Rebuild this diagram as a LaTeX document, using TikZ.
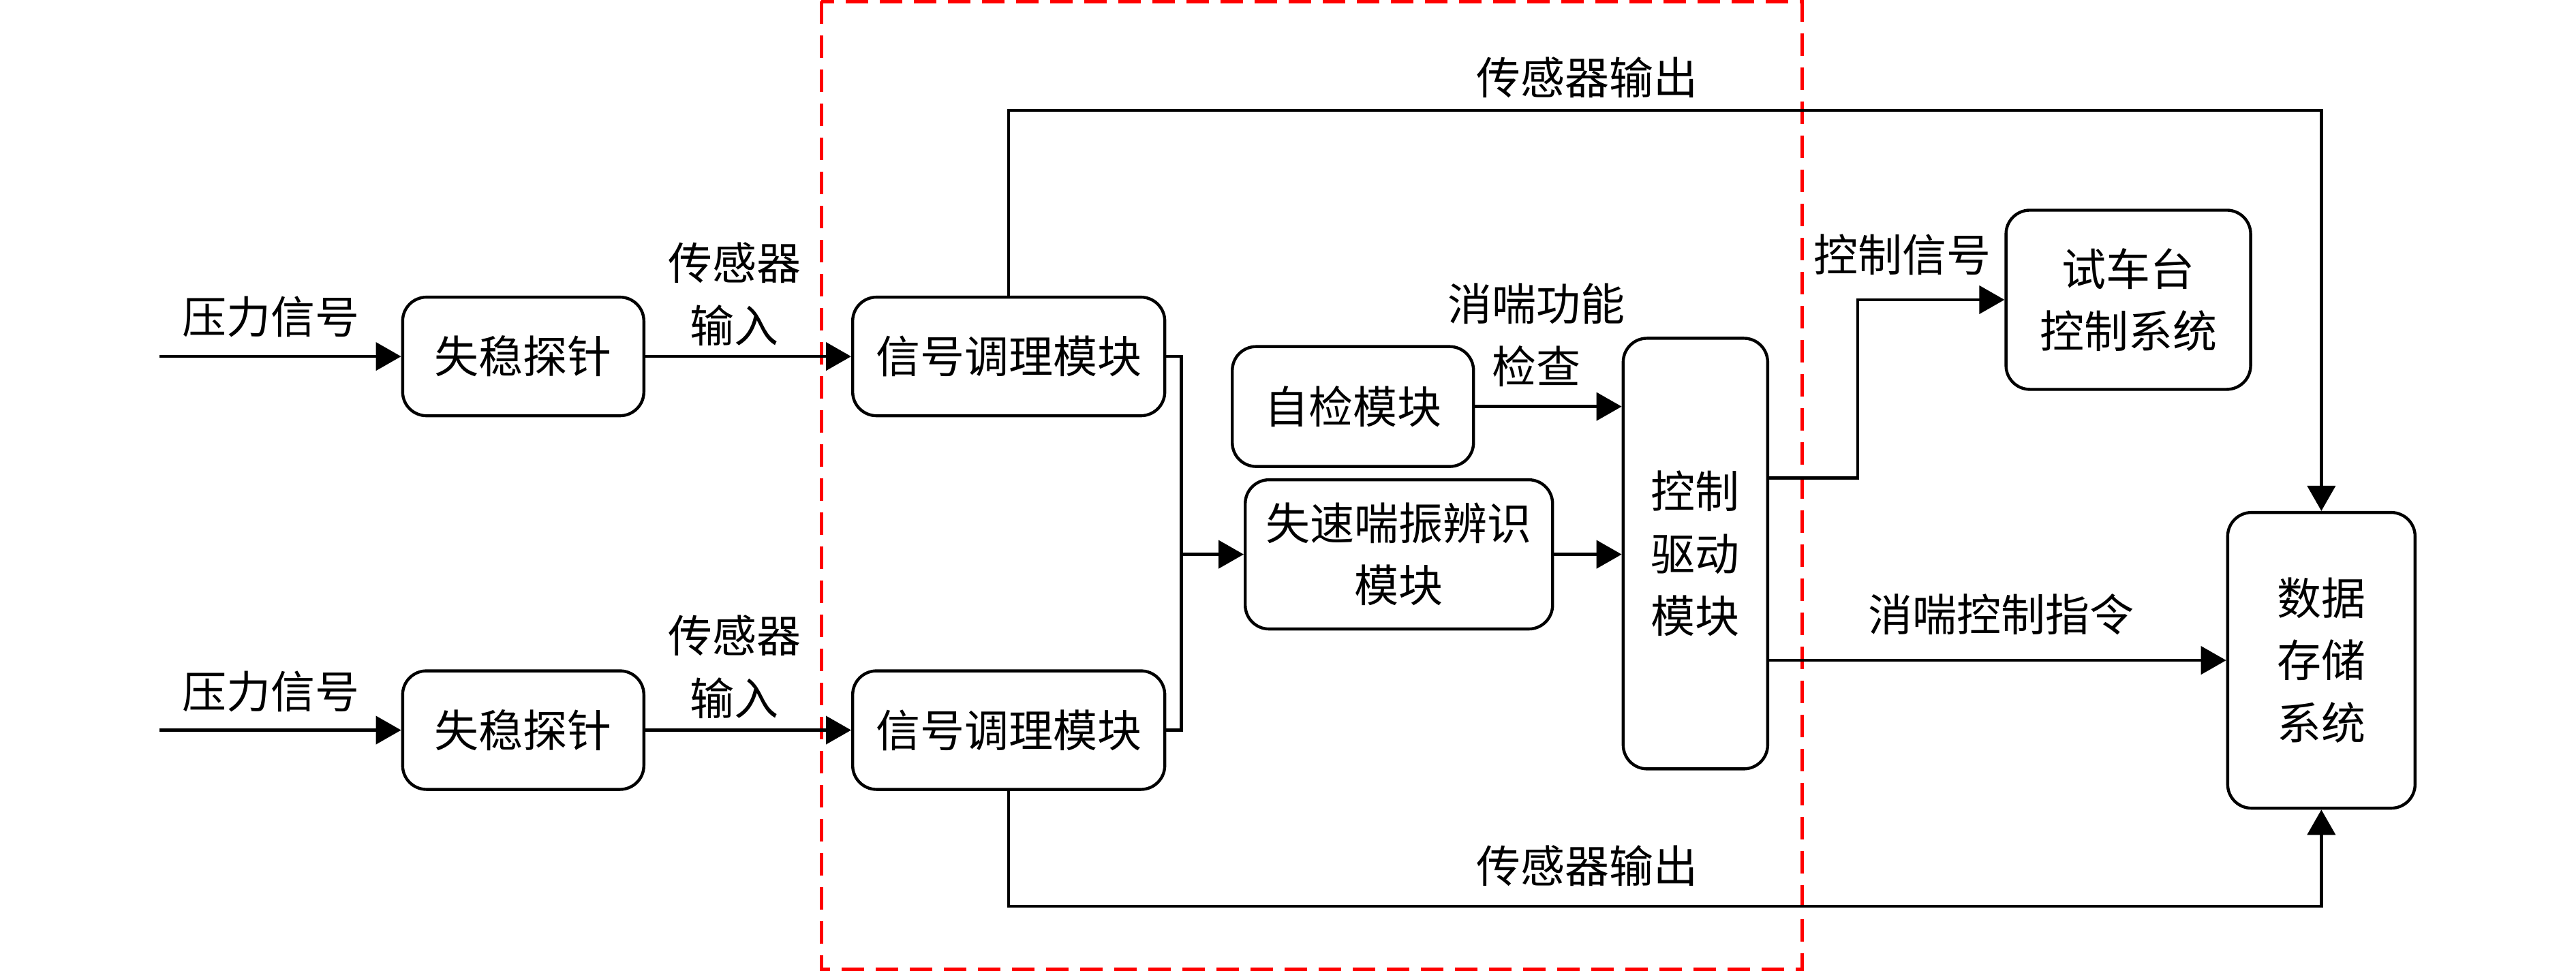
\documentclass[tikz,border=0pt]{standalone}
\usepackage{fontspec}
\newfontfamily\cjk{Noto Sans CJK SC}
\usepackage{tikz}
\usetikzlibrary{arrows.meta}
\tikzset{
    block/.style={draw=black, rounded corners=0.35cm, align=center, inner sep=0pt},
    lbl/.style={align=center, inner sep=0pt},
    line/.style={draw=black, -{Triangle[length=3.7mm,width=4.1mm]}},
    wire/.style={draw=black},
    region/.style={draw=red, dash pattern=on 0.33cm off 0.17cm},
}

\begin{document}
\begin{tikzpicture}[x=0.024107cm, y=-0.024107cm, line width=1.25pt,
    every node/.style={font=\cjk\fontsize{18.5}{26}\selectfont}]
	\useasboundingbox (0,0) rectangle (1568,592);
	\draw[region] (500,1) rectangle (1097,590);
	% upper channel
	\coordinate (in1) at (97,217);
	\node[block, minimum width=3.54cm, minimum height=1.74cm] (probe1) at (318.5,217) {失稳探针};
	\node[block, minimum width=4.58cm, minimum height=1.74cm] (cond1) at (614,217) {信号调理模块};
	\node[lbl] at (165,193) {压力信号};
	\node[lbl] at (447,179) {传感器\\输入};
	% lower channel
	\coordinate (in2) at (97,444.5);
	\node[block, minimum width=3.54cm, minimum height=1.74cm] (probe2) at (318.5,444.5) {失稳探针};
	\node[block, minimum width=4.58cm, minimum height=1.74cm] (cond2) at (614,444.5) {信号调理模块};
	\node[lbl] at (165,421) {压力信号};
	\node[lbl] at (447,406) {传感器\\输入};
	% processing
	\node[block, minimum width=3.54cm, minimum height=1.76cm] (check) at (823.5,247.5) {自检模块};
	\node[block, minimum width=4.51cm, minimum height=2.19cm] (ident) at (851.5,337.5) {失速喘振辨识\\模块};
	\node[block, minimum width=2.12cm, minimum height=6.32cm] (ctrl) at (1032,337) {控制\\驱动\\模块};
	\node[lbl] at (935,204) {消喘功能\\检查};
	% outside systems
	\node[block, minimum width=3.59cm, minimum height=2.63cm] (bench) at (1295.5,182.5) {试车台\\控制系统};
	\node[block, minimum width=2.75cm, minimum height=4.34cm] (store) at (1413,402) {数据\\存储\\系统};
	\node[lbl] at (1158,155) {控制信号};
	\node[lbl] at (1218,374) {消喘控制指令};
	\node[lbl] at (966,47) {传感器输出};
	\node[lbl] at (966,527) {传感器输出};

	\draw[line] (in1) -- (probe1);
	\draw[line] (probe1) -- (cond1);
	\draw[line] (in2) -- (probe2);
	\draw[line] (probe2) -- (cond2);
	\coordinate (junc) at (719,337.5);
	\draw[wire] (cond1.east) -| (junc);
	\draw[wire] (cond2.east) -| (junc);
	\draw[line] (junc) -- (ident);
	\draw[line] (check) -- (check -| ctrl.west);
	\draw[line] (ident) -- (ident -| ctrl.west);
	\draw[line] ([yshift=1.11cm]ctrl.east) -- ++(1.3cm,0) |- (bench);
	\draw[line] (ctrl.east |- store) -- (store);
	\draw[line] (cond1.north) -- ++(0,2.72cm) -| (store.north);
	\draw[line] (cond2.south) -- ++(0,-1.69cm) -| (store.south);
\end{tikzpicture}
\end{document}
